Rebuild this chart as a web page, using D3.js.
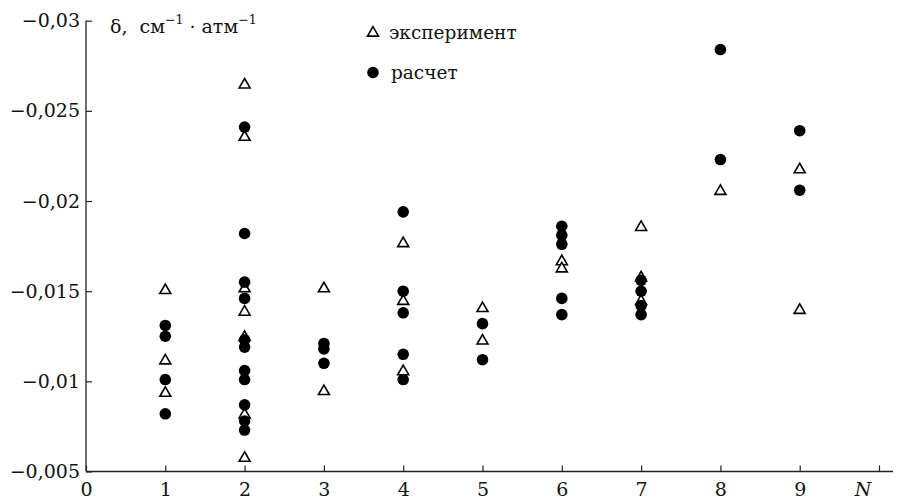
<!DOCTYPE html>
<html>
<head>
<meta charset="utf-8">
<script src="https://cdn.jsdelivr.net/npm/d3@7"></script>
<style>
body { margin: 0; background: #fff; }
svg text { font-family: "DejaVu Serif", serif; fill: #111; }
</style>
</head>
<body>
<svg id="chart" width="897" height="502"></svg>
<script>
// N values on the x axis
var n_values = [1, 2, 3, 4, 5, 6, 7, 8, 9]
var x_ticks = [0, 1, 2, 3, 4, 5, 6, 7, 8, 9, 10]
var y_ticks = [-0.005, -0.01, -0.015, -0.02, -0.025, -0.03]

// experiment (triangles), one list per N
var experiment = [
    [-0.0151, -0.0112, -0.0094],
    [-0.0265, -0.0236, -0.0152, -0.0139, -0.0125, -0.0082, -0.0058],
    [-0.0152, -0.0095],
    [-0.0177, -0.0145, -0.0106],
    [-0.0141, -0.0123],
    [-0.0167, -0.0163],
    [-0.0186, -0.0158, -0.0145],
    [-0.0206],
    [-0.0218, -0.0140]
]

// calculation (filled circles), one list per N
var calculation = [
    [-0.0131, -0.0125, -0.0101, -0.0082],
    [-0.0241, -0.0182, -0.0155, -0.0146, -0.0123, -0.0119, -0.0106, -0.0101, -0.0087, -0.0078, -0.0073],
    [-0.0121, -0.0118, -0.0110],
    [-0.0194, -0.0150, -0.0138, -0.0115, -0.0101],
    [-0.0132, -0.0112],
    [-0.0186, -0.0181, -0.0176, -0.0146, -0.0137],
    [-0.0156, -0.0150, -0.0142, -0.0137],
    [-0.0284, -0.0223],
    [-0.0239, -0.0206]
]

var svg = d3.select("#chart")
var x0 = 86, x1 = 879, y_bottom = 471.5, y_top = 20.7
var font = "'DejaVu Serif', serif"

var x = d3.scaleLinear().domain([0, 10]).range([x0, x1])
var y = d3.scaleLinear().domain([-0.005, -0.03]).range([y_bottom, y_top])

function flatten(list){
    var out = []
    for(var i = 0; i < list.length; i++){
        for(var j = 0; j < list[i].length; j++){
            out.push({n: n_values[i], v: list[i][j]})
        }
    }
    return out
}

function fmt_y(v){
    return "\u2212" + String(Math.abs(v)).replace(".", ",")
}

// x axis
var x_axis = d3.axisBottom(x)
    .tickValues(x_ticks)
    .tickSizeInner(-6)
    .tickSizeOuter(0)
    .tickPadding(11)
    .tickFormat(function(d){ return d == 10 ? "" : d })

var gx = svg.append("g")
    .attr("transform", "translate(0," + y_bottom + ")")
    .call(x_axis)
gx.attr("font-family", font)
gx.select(".domain").remove()
gx.selectAll("line").attr("stroke", "#222").attr("stroke-width", 1.2)
gx.selectAll("text").attr("font-size", 19).attr("fill", "#111")

svg.append("line")
    .attr("x1", x0).attr("x2", 893)
    .attr("y1", y_bottom).attr("y2", y_bottom)
    .attr("stroke", "#222").attr("stroke-width", 1.3)

svg.append("text")
    .attr("x", x(10) - 16)
    .attr("y", y_bottom + 11)
    .attr("dy", "0.71em")
    .attr("text-anchor", "middle")
    .attr("font-size", 19)
    .attr("font-style", "italic")
    .text("N")

// y axis
var y_axis = d3.axisLeft(y)
    .tickValues(y_ticks)
    .tickSizeInner(-6)
    .tickSizeOuter(0)
    .tickPadding(6)
    .tickFormat(fmt_y)

var gy = svg.append("g")
    .attr("transform", "translate(" + x0 + ",0)")
    .call(y_axis)
gy.attr("font-family", font)
gy.select(".domain").remove()
gy.selectAll("line").attr("stroke", "#222").attr("stroke-width", 1.2)
gy.selectAll("text").attr("font-size", 19).attr("fill", "#111")

svg.append("line")
    .attr("x1", x0).attr("x2", x0)
    .attr("y1", y_top).attr("y2", y_bottom)
    .attr("stroke", "#222").attr("stroke-width", 1.3)

// axis title
var title = svg.append("text")
    .attr("x", 110)
    .attr("y", 33)
    .attr("font-size", 19)
title.append("tspan").text("δ,\u00a0\u00a0см")
title.append("tspan").attr("dy", -9).attr("font-size", 12.5).text("\u22121")
title.append("tspan").attr("dy", 9).text("\u00a0·\u00a0атм")
title.append("tspan").attr("dy", -9).attr("font-size", 12.5).text("\u22121")

// marks
var tri = d3.symbol().type(d3.symbolTriangle).size(52)

svg.append("g").selectAll("path")
    .data(flatten(experiment))
    .enter().append("path")
    .attr("d", tri)
    .attr("transform", function(d){ return "translate(" + x(d.n) + "," + (y(d.v) + 1) + ")" })
    .attr("fill", "#fff")
    .attr("stroke", "#000")
    .attr("stroke-width", 1.6)

svg.append("g").selectAll("circle")
    .data(flatten(calculation))
    .enter().append("circle")
    .attr("cx", function(d){ return x(d.n) })
    .attr("cy", function(d){ return y(d.v) })
    .attr("r", 5.8)
    .attr("fill", "#000")

// legend
svg.append("path")
    .attr("d", tri)
    .attr("transform", "translate(373,33)")
    .attr("fill", "#fff")
    .attr("stroke", "#000")
    .attr("stroke-width", 1.6)
svg.append("text").attr("x", 389).attr("y", 39).attr("font-size", 18.5).text("эксперимент")

svg.append("circle").attr("cx", 373).attr("cy", 72.5).attr("r", 5.8).attr("fill", "#000")
svg.append("text").attr("x", 391).attr("y", 79).attr("font-size", 18.5).text("расчет")
</script>
</body>
</html>
